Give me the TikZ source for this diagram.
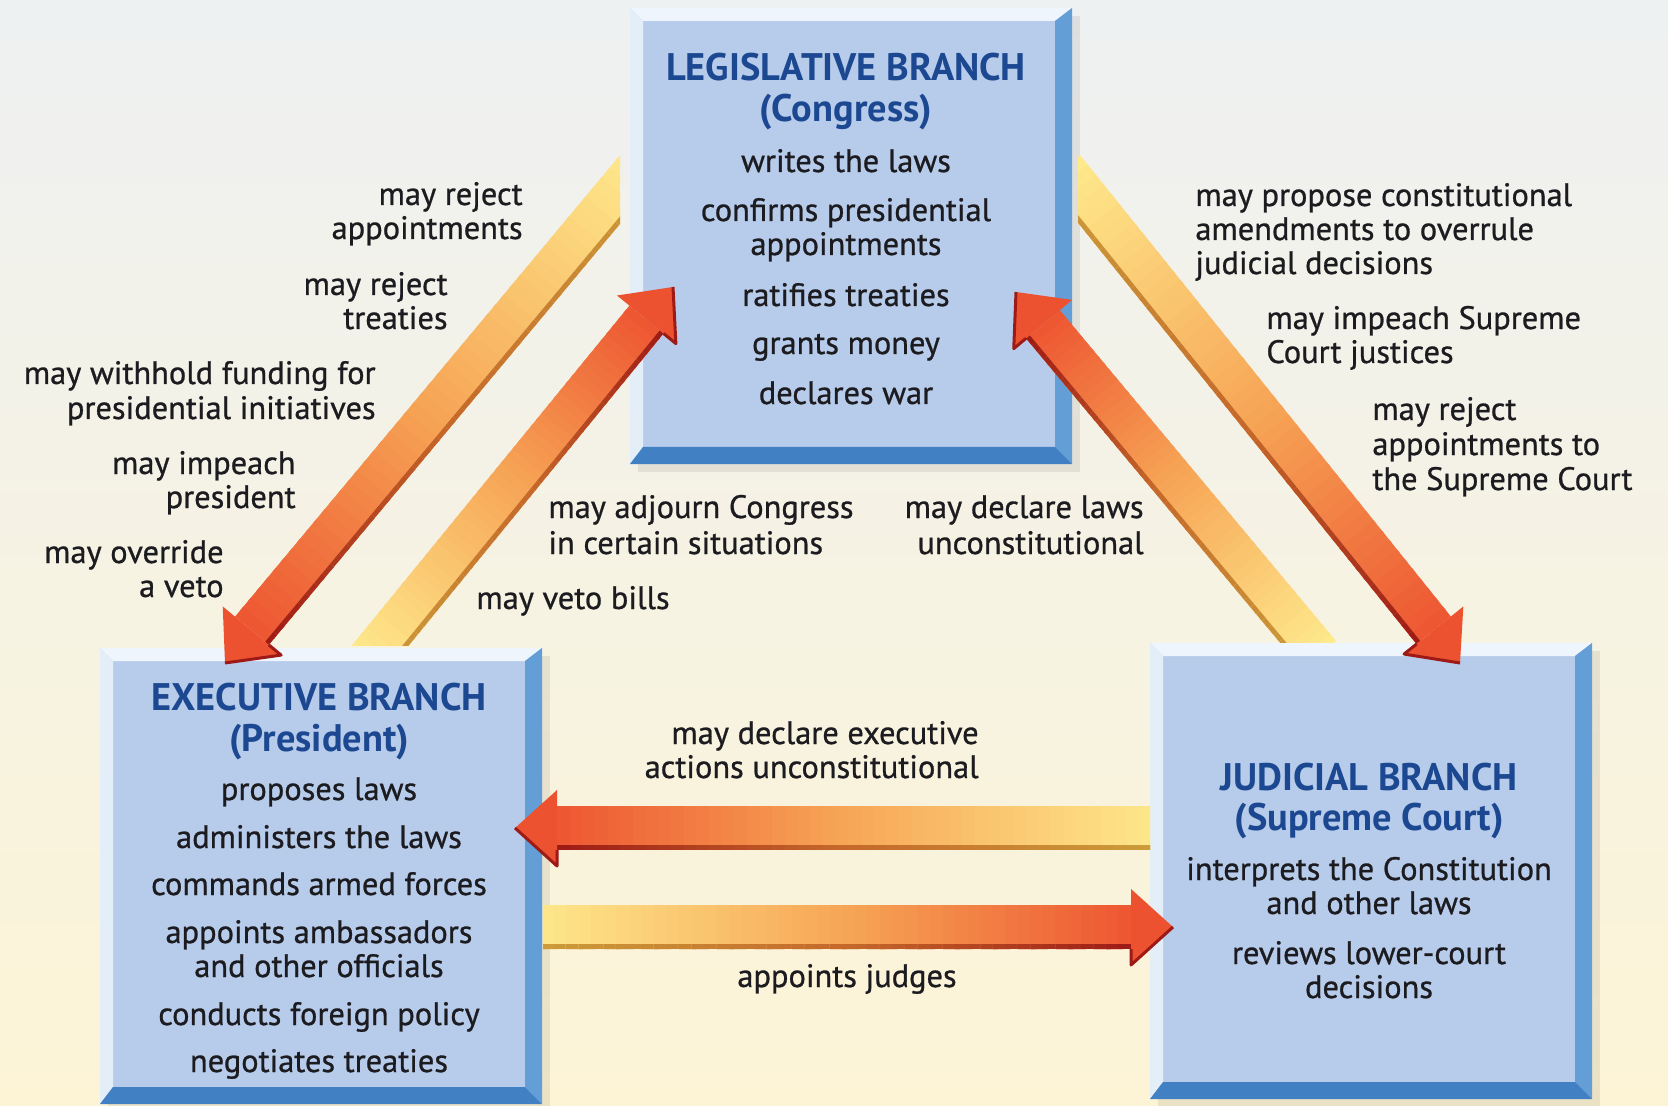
\documentclass[tikz,border=0pt]{standalone}
\usepackage{fontspec}
\setmainfont{PT Sans}
\newfontfamily\bodyf{PT Sans}[FakeBold=0.8]
\usetikzlibrary{calc}
\definecolor{bgtop}{RGB}{238,241,242}
\definecolor{bgmid}{RGB}{249,246,232}
\definecolor{bgbot}{RGB}{253,244,214}
\definecolor{face}{RGB}{183,203,234}
\definecolor{bevtop}{RGB}{238,245,252}
\definecolor{bevleft}{RGB}{228,238,249}
\definecolor{bevrt}{RGB}{100,158,214}
\definecolor{bevbt}{RGB}{66,128,196}
\definecolor{ttl}{RGB}{28,72,145}
\definecolor{txt}{RGB}{28,28,32}
\definecolor{bY}{RGB}{254,234,140}
\definecolor{bO}{RGB}{246,162,84}
\definecolor{bR}{RGB}{237,86,50}
\definecolor{dY}{RGB}{205,158,58}
\definecolor{dO}{RGB}{196,102,42}
\definecolor{dR}{RGB}{158,26,22}
\definecolor{headc}{RGB}{236,82,48}
\newcommand\ttlfont{\bfseries\fontsize{19.2}{23}\selectfont}
\newcommand\bodyfont{\bodyf\fontsize{16.2}{19}\selectfont}
\def\hl{21pt}
\def\hh{19pt}
\def\bw{11pt}
\def\bwi{8.6pt}
% #1 name, #2 x, #3 y (outer top-left, in px units)
\newcommand\branchbox[3]{%
  \node[inner sep=0pt, outer sep=0pt, minimum width=221pt, minimum height=228pt, anchor=north west] (#1) at (#2,#3) {};
  \fill[black,opacity=0.07] ($(#1.north west)+(4pt,-4pt)$) rectangle ($(#1.south east)+(4pt,-4pt)$);
  \fill[face] (#1.north west) rectangle (#1.south east);
  \coordinate (#1-i1) at ($(#1.north west)+(6.5pt,-6.5pt)$);
  \coordinate (#1-i2) at ($(#1.north east)+(-8.5pt,-6.5pt)$);
  \coordinate (#1-i3) at ($(#1.south east)+(-8.5pt,8.5pt)$);
  \coordinate (#1-i4) at ($(#1.south west)+(6.5pt,8.5pt)$);
  \fill[bevtop] (#1.north west) -- (#1.north east) -- (#1-i2) -- (#1-i1) -- cycle;
  \fill[bevleft] (#1.north west) -- (#1-i1) -- (#1-i4) -- (#1.south west) -- cycle;
  \fill[bevrt] (#1.north east) -- (#1.south east) -- (#1-i3) -- (#1-i2) -- cycle;
  \fill[bevbt] (#1.south west) -- (#1-i4) -- (#1-i3) -- (#1.south east) -- cycle;
}
% #1 tail, #2 tip, #3 dark side angle, #4 light side angle
\newcommand\bandarrow[4]{%
  \coordinate (hb) at ($(#2)!\hl!(#1)$);
  \foreach \i in {0,...,47}{%
    \pgfmathsetmacro\ta{\i/48}%
    \pgfmathsetmacro\tb{min(1,(\i+1.4)/48)}%
    \pgfmathsetmacro\tm{(\i+0.5)/48}%
    \ifdim\tm pt<0.55pt
      \pgfmathsetmacro\pp{\tm/0.55*100}%
      \colorlet{segc}{bO!\pp!bY}\colorlet{segd}{dO!\pp!dY}%
    \else
      \pgfmathsetmacro\pp{(\tm-0.55)/0.45*100}%
      \colorlet{segc}{bR!\pp!bO}\colorlet{segd}{dR!\pp!dO}%
    \fi
    \fill[segc] ($(#1)!\ta!(hb)!\bw!#4:(#2)$) -- ($(#1)!\tb!(hb)!\bw!#4:(#2)$) -- ($(#1)!\tb!(hb)!\bw!#3:(#2)$) -- ($(#1)!\ta!(hb)!\bw!#3:(#2)$) -- cycle;
    \fill[segd] ($(#1)!\ta!(hb)!\bwi!#3:(#2)$) -- ($(#1)!\tb!(hb)!\bwi!#3:(#2)$) -- ($(#1)!\tb!(hb)!\bw!#3:(#2)$) -- ($(#1)!\ta!(hb)!\bw!#3:(#2)$) -- cycle;
  }
  \fill[headc] ($(hb)!\hh!#4:(#2)$) -- (#2) -- ($(hb)!\hh!#3:(#2)$) -- cycle;
  \draw[dR, line width=1.5pt, line join=round] ($(hb)!\bw!#3:(#2)$) -- ($(hb)!\hh!#3:(#2)$) -- (#2);
}
\begin{document}
\begin{tikzpicture}[x=0.5pt,y=-0.5pt,
  tb/.style={font=\bodyfont, text=txt, inner sep=0pt, yshift=-1.5pt},
  tt/.style={font=\ttlfont, text=ttl, inner sep=0pt, anchor=base}]
\useasboundingbox (0,0) rectangle (1668,1106);
\shade[top color=bgtop, middle color=bgmid, bottom color=bgbot] (0,0) rectangle (1668,1106);

% boxes
\branchbox{L}{630}{8}
\branchbox{E}{100}{648}
\branchbox{J}{1150}{643}

% arrow end points
\coordinate (a1t) at (643,162);  \coordinate (a1h) at (225,663);
\coordinate (a2t) at (366,663);  \coordinate (a2h) at (673,287);
\coordinate (a3t) at (1063,169); \coordinate (a3h) at (1460,663);
\coordinate (a4t) at (1319,655); \coordinate (a4h) at (1016,292);
\coordinate (a5t) at (1165,828); \coordinate (a5h) at (515,828);
\coordinate (a6t) at (528,927);  \coordinate (a6h) at (1173,927);

\begin{scope}\clip (0,0) rectangle (620,1106); \bandarrow{a1t}{a1h}{90}{-90} \end{scope}
\begin{scope}\clip (0,0) rectangle (1668,645); \bandarrow{a2t}{a2h}{-90}{90} \end{scope}
\begin{scope}\clip (1078,0) rectangle (1668,1106); \bandarrow{a3t}{a3h}{-90}{90} \end{scope}
\begin{scope}\clip (0,0) rectangle (1668,642); \bandarrow{a4t}{a4h}{90}{-90} \end{scope}
\begin{scope}\clip (0,0) rectangle (1150,1106); \bandarrow{a5t}{a5h}{90}{-90} \end{scope}
\begin{scope}\clip (543,0) rectangle (1668,1106); \bandarrow{a6t}{a6h}{-90}{90} \end{scope}

% Legislative text
\node[tt] (Lt1) at (846,81) {LEGISLATIVE BRANCH};
\node[tt] (Lt2) at (846,122) {(Congress)};
\node[tb,anchor=base] (L1) at (846,169) {writes the laws};
\node[tb,anchor=base] (L2a) at (846,218) {confirms presidential};
\node[tb,anchor=base] (L2b) at (846,252) {appointments};
\node[tb,anchor=base] (L3) at (846,303) {ratifies treaties};
\node[tb,anchor=base] (L4) at (846,351) {grants money};
\node[tb,anchor=base] (L5) at (846,401) {declares war};

% Executive text
\node[tt] (Et1) at (319,710) {EXECUTIVE BRANCH};
\node[tt] (Et2) at (319,751) {(President)};
\node[tb,anchor=base] (E1) at (319,797) {proposes laws};
\node[tb,anchor=base] (E2) at (319,845) {administers the laws};
\node[tb,anchor=base] (E3) at (319,892) {commands armed forces};
\node[tb,anchor=base] (E4a) at (319,940) {appoints ambassadors};
\node[tb,anchor=base] (E4b) at (319,974) {and other officials};
\node[tb,anchor=base] (E5) at (319,1022) {conducts foreign policy};
\node[tb,anchor=base] (E6) at (319,1069) {negotiates treaties};

% Judicial text
\node[tt] (Jt1) at (1369,790) {JUDICIAL BRANCH};
\node[tt] (Jt2) at (1369,830) {(Supreme Court)};
\node[tb,anchor=base] (J1a) at (1369,877) {interprets the Constitution};
\node[tb,anchor=base] (J1b) at (1369,911) {and other laws};
\node[tb,anchor=base] (J2a) at (1369,961) {reviews lower-court};
\node[tb,anchor=base] (J2b) at (1369,995) {decisions};

% labels left
\node[tb,anchor=base east] (la1) at (523,202) {may reject};
\node[tb,anchor=base east] (la2) at (523,236) {appointments};
\node[tb,anchor=base east] (lb1) at (448,292) {may reject};
\node[tb,anchor=base east] (lb2) at (448,326) {treaties};
\node[tb,anchor=base east] (lc1) at (376,381) {may withhold funding for};
\node[tb,anchor=base east] (lc2) at (376,416) {presidential initiatives};
\node[tb,anchor=base east] (ld1) at (296,471) {may impeach};
\node[tb,anchor=base east] (ld2) at (296,505) {president};
\node[tb,anchor=base east] (le1) at (224,560) {may override};
\node[tb,anchor=base east] (le2) at (224,594) {a veto};
% labels middle
\node[tb,anchor=base west] (ma1) at (548,515) {may adjourn Congress};
\node[tb,anchor=base west] (ma2) at (548,551) {in certain situations};
\node[tb,anchor=base west] (mb1) at (476,606) {may veto bills};
\node[tb,anchor=base east] (mc1) at (1144,515) {may declare laws};
\node[tb,anchor=base east] (mc2) at (1144,551) {unconstitutional};
% labels right
\node[tb,anchor=base west] (ra1) at (1195,203) {may propose constitutional};
\node[tb,anchor=base west] (ra2) at (1195,237) {amendments to overrule};
\node[tb,anchor=base west] (ra3) at (1195,271) {judicial decisions};
\node[tb,anchor=base west] (rb1) at (1266,326) {may impeach Supreme};
\node[tb,anchor=base west] (rb2) at (1266,360) {Court justices};
\node[tb,anchor=base west] (rc1) at (1372,417) {may reject};
\node[tb,anchor=base west] (rc2) at (1372,452) {appointments to};
\node[tb,anchor=base west] (rc3) at (1372,487) {the Supreme Court};
% labels bottom
\node[tb,anchor=base east] (ba1) at (979,741) {may declare executive};
\node[tb,anchor=base east] (ba2) at (979,775) {actions unconstitutional};
\node[tb,anchor=base] (bb1) at (847,984) {appoints judges};
\end{tikzpicture}
\end{document}
